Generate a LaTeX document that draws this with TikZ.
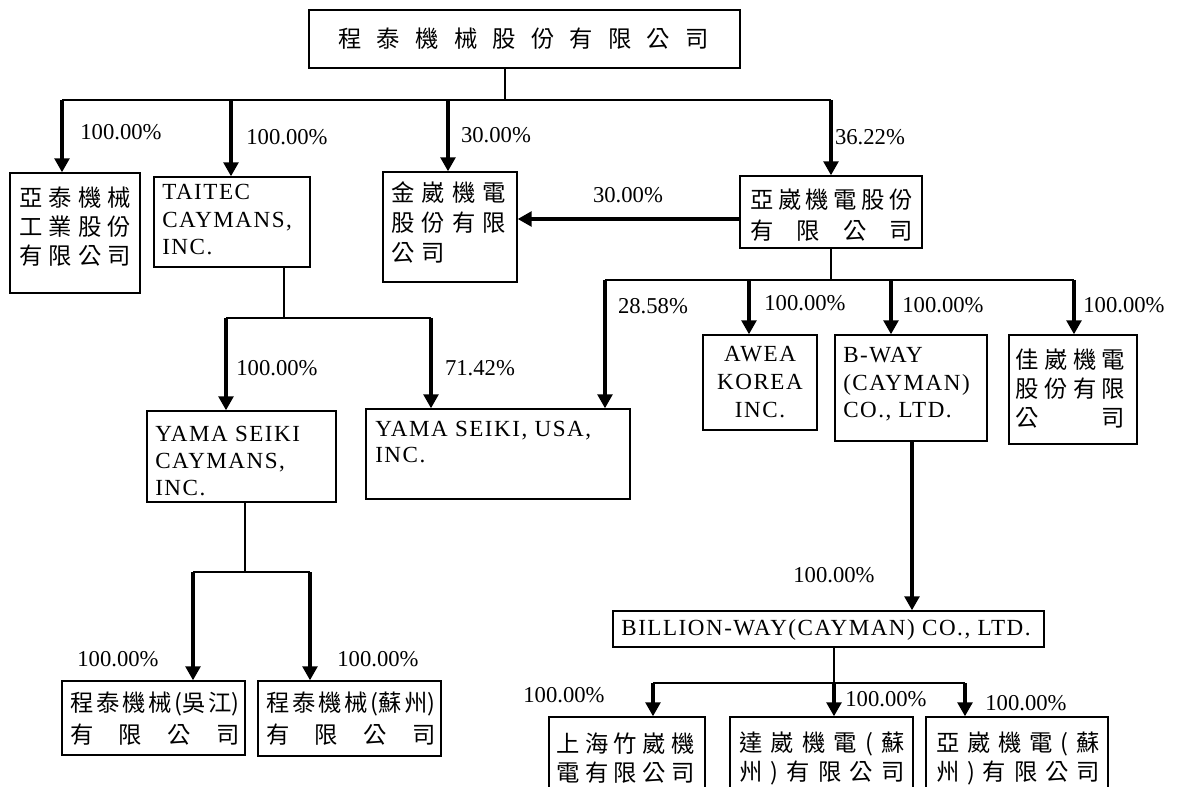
\documentclass[tikz,border=0pt]{standalone}
\usepackage{fontspec}
\setmainfont{Liberation Serif}
\newfontfamily\cjk{Noto Sans CJK TC}
\newfontfamily\boxlat[LetterSpace=6.6]{Liberation Serif}
\usetikzlibrary{arrows.meta}
\newcommand\mkbox[5]{\node[bx, minimum width={(#4-#2)*0.75pt}, minimum height={(#5-#3)*0.75pt}] (#1) at ({(#2+#4)/2},{(#3+#5)/2}) {};}
\newcommand\sprow[5]{\node[cjkrow] (#1) at (#2,#3) {\makebox[#4]{#5}};}
\tikzset{
  bx/.style={draw, line width=1pt, inner sep=0pt, rectangle},
  ln/.style={line width=0.8pt},
  barln/.style={line width=1.3pt},
  arr/.style={line width=2.6pt, -{Triangle[width=11pt,length=10.5pt]}},
  lab/.style={inner sep=0pt, font=\fontsize{17pt}{20pt}\selectfont},
  lat/.style={inner sep=0pt, anchor=base west, font=\fontsize{17.3pt}{20pt}\selectfont\boxlat},
  cjkrow/.style={inner sep=0pt, anchor=west, font=\fontsize{17.5pt}{20pt}\selectfont\cjk}
}
\begin{document}
\begin{tikzpicture}[x=0.75pt,y=-0.75pt]
\useasboundingbox (0,0) rectangle (1178,787);
\clip (0,0) rectangle (1178,787);
% boxes
\mkbox{T}{309}{10}{740}{68}
\mkbox{A1}{10}{173}{140}{293}
\mkbox{A2}{154}{177}{310}{267}
\mkbox{A3}{383}{172}{517}{282}
\mkbox{A4}{740}{176}{922}{248}
\mkbox{YC}{147}{411}{336}{502}
\mkbox{YU}{366}{409}{630}{499}
\mkbox{AW}{703}{335}{817}{430}
\mkbox{BW}{835}{335}{987}{441}
\mkbox{JW}{1009}{335}{1137}{444}
\mkbox{WJ}{62}{681}{245}{755}
\mkbox{SZ}{258}{681}{441}{756}
\mkbox{BL}{613}{611}{1044}{647}
\mkbox{S1}{549}{717}{705}{830}
\mkbox{S2}{730}{717}{913}{830}
\mkbox{S3}{926}{717}{1108}{830}
% texts
\sprow{tT}{338}{39}{278pt}{程\hfill 泰\hfill 機\hfill 械\hfill 股\hfill 份\hfill 有\hfill 限\hfill 公\hfill 司}
\sprow{tA1a}{19}{198}{84pt}{亞\hfill 泰\hfill 機\hfill 械}
\sprow{tA1b}{19}{227}{84pt}{工\hfill 業\hfill 股\hfill 份}
\sprow{tA1c}{19}{256}{84pt}{有\hfill 限\hfill 公\hfill 司}
\node[lat] (tA2a) at (162,200) {TAITEC};
\node[lat] (tA2b) at (162,228) {CAYMANS,};
\node[lat] (tA2c) at (162,255) {INC.};
\sprow{tA3a}{391}{193}{86pt}{金\hfill 崴\hfill 機\hfill 電}
\sprow{tA3b}{391}{223}{86pt}{股\hfill 份\hfill 有\hfill 限}
\sprow{tA3c}{391}{253}{40pt}{公\hfill 司}
\sprow{tA4a}{750}{200}{122pt}{亞\hfill 崴\hfill 機\hfill 電\hfill 股\hfill 份}
\sprow{tA4b}{750}{231}{122pt}{有\hfill 限\hfill 公\hfill 司}
\node[lat] (tYCa) at (155,442) {YAMA SEIKI};
\node[lat] (tYCb) at (155,469) {CAYMANS,};
\node[lat] (tYCc) at (155,496) {INC.};
\node[lat] (tYUa) at (375,437) {YAMA SEIKI, USA,};
\node[lat] (tYUb) at (375,463) {INC.};
\node[lat, anchor=base] (tAWa) at (760,362) {AWEA};
\node[lat, anchor=base] (tAWb) at (760,390) {KOREA};
\node[lat, anchor=base] (tAWc) at (760,418) {INC.};
\node[lat] (tBWa) at (843,363) {B-WAY};
\node[lat] (tBWb) at (843,391) {(CAYMAN)};
\node[lat] (tBWc) at (843,418) {CO., LTD.};
\sprow{tJWa}{1015}{360}{82.5pt}{佳\hfill 崴\hfill 機\hfill 電}
\sprow{tJWb}{1015}{389}{82.5pt}{股\hfill 份\hfill 有\hfill 限}
\sprow{tJWc}{1015}{418}{82.5pt}{公\hfill 司}
\sprow{tWJa}{70}{704}{127pt}{程\hfill 泰\hfill 機\hfill 械\hfill(吳\hfill 江)}
\sprow{tWJb}{70}{735}{127pt}{有\hfill 限\hfill 公\hfill 司}
\sprow{tSZa}{266}{704}{127pt}{程\hfill 泰\hfill 機\hfill 械\hfill(蘇\hfill 州)}
\sprow{tSZb}{266}{735}{127pt}{有\hfill 限\hfill 公\hfill 司}
\node[lat, anchor=center] (tBL) at (826,630) {BILLION-WAY(CAYMAN) CO., LTD.};
\sprow{tS1a}{556}{744}{104pt}{上\hfill 海\hfill 竹\hfill 崴\hfill 機}
\sprow{tS1b}{556}{773}{104pt}{電\hfill 有\hfill 限\hfill 公\hfill 司}
\sprow{tS2a}{739}{744}{124pt}{達\hfill 崴\hfill 機\hfill 電\hfill(\hfill 蘇}
\sprow{tS2b}{739}{773}{124pt}{州\hfill)\hfill 有\hfill 限\hfill 公\hfill 司}
\sprow{tS3a}{936}{744}{122.5pt}{亞\hfill 崴\hfill 機\hfill 電\hfill(\hfill 蘇}
\sprow{tS3b}{936}{773}{122.5pt}{州\hfill)\hfill 有\hfill 限\hfill 公\hfill 司}
% labels
\node[lab] (L1) at (121,132) {100.00\%};
\node[lab] (L2) at (287,137) {100.00\%};
\node[lab] (L3) at (496,135) {30.00\%};
\node[lab] (L4) at (870,137) {36.22\%};
\node[lab] (L5) at (628,195) {30.00\%};
\node[lab] (L6) at (653,306) {28.58\%};
\node[lab] (L7) at (805,303) {100.00\%};
\node[lab] (L8) at (943,305) {100.00\%};
\node[lab] (L9) at (1124,305) {100.00\%};
\node[lab] (L10) at (277,368) {100.00\%};
\node[lab] (L11) at (480,368) {71.42\%};
\node[lab] (L12) at (118,659) {100.00\%};
\node[lab] (L13) at (378,659) {100.00\%};
\node[lab] (L14) at (834,575) {100.00\%};
\node[lab] (L15) at (564,695) {100.00\%};
\node[lab] (L16) at (886,699) {100.00\%};
\node[lab] (L17) at (1026,703) {100.00\%};
% junction coordinates
\coordinate (j0) at (505,100);
\coordinate (b0L) at (62,100);
\coordinate (b0a) at (231,100);
\coordinate (b0b) at (448,100);
\coordinate (b0R) at (831,100);
\coordinate (h1) at (740,219);
\coordinate (j1) at (831,280);
\coordinate (b1L) at (605,280);
\coordinate (b1a) at (749,280);
\coordinate (b1b) at (891,280);
\coordinate (b1R) at (1074,280);
\coordinate (j2) at (284,318);
\coordinate (b2L) at (226,318);
\coordinate (b2R) at (431,318);
\coordinate (j3) at (245,572);
\coordinate (b3L) at (193,572);
\coordinate (b3R) at (310,572);
\coordinate (k4) at (912,441);
\coordinate (j5) at (834,683);
\coordinate (b5L) at (653,683);
\coordinate (b5R) at (965,683);
% connectors
\draw[ln] (T.south -| j0) -- (j0);
\draw[barln] (b0L) -- (b0R);
\draw[arr] (b0L) -- (b0L |- A1.north);
\draw[arr] (b0a) -- (b0a |- A2.north);
\draw[arr] (b0b) -- (b0b |- A3.north);
\draw[arr] (b0R) -- (b0R |- A4.north);
\draw[arr] (h1) -- (h1 -| A3.east);
\draw[ln] (A4.south -| j1) -- (j1);
\draw[barln] (b1L) -- (b1R);
\draw[arr] (b1L) -- (b1L |- YU.north);
\draw[arr] (b1a) -- (b1a |- AW.north);
\draw[arr] (b1b) -- (b1b |- BW.north);
\draw[arr] (b1R) -- (b1R |- JW.north);
\draw[ln] (A2.south -| j2) -- (j2);
\draw[barln] (b2L) -- (b2R);
\draw[arr] (b2L) -- (b2L |- YC.north);
\draw[arr] (b2R) -- (b2R |- YU.north);
\draw[ln] (YC.south -| j3) -- (j3);
\draw[barln] (b3L) -- (b3R);
\draw[arr] (b3L) -- (b3L |- WJ.north);
\draw[arr] (b3R) -- (b3R |- SZ.north);
\draw[arr] (BW.south -| k4) -- (BL.north -| k4);
\draw[ln] (BL.south -| j5) -- (j5);
\draw[barln] (b5L) -- (b5R);
\draw[arr] (b5L) -- (b5L |- S1.north);
\draw[arr] (j5) -- (j5 |- S2.north);
\draw[arr] (b5R) -- (b5R |- S3.north);
\end{tikzpicture}
\end{document}
